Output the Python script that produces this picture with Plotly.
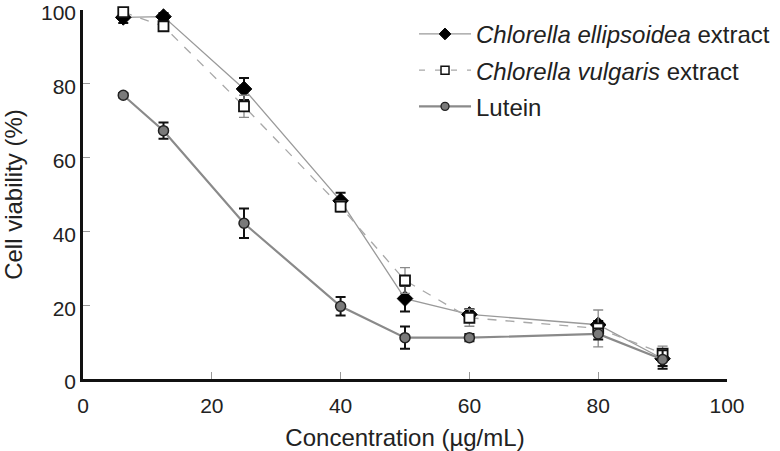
import plotly.graph_objects as go

conc = [6.25, 12.5, 25, 40, 50, 60, 80, 90]

ellipsoidea = [98.0, 98.2, 78.6, 48.3, 21.8, 17.5, 14.7, 5.5]
ellipsoidea_err = [1.5, 1.0, 3.0, 2.2, 3.5, 1.5, 1.0, 2.0]

vulgaris = [99.4, 95.6, 73.9, 46.7, 26.7, 16.6, 13.7, 6.9]
vulgaris_err = [1.0, 0.6, 3.0, 1.5, 3.5, 2.3, 5.0, 2.0]

lutein = [76.9, 67.3, 42.2, 19.7, 11.2, 11.2, 12.2, 5.3]
lutein_err = [0.6, 2.2, 4.0, 2.5, 3.0, 1.0, 1.5, 2.5]

series_names = [
    "<i>Chlorella ellipsoidea</i> extract",
    "<i>Chlorella vulgaris</i> extract",
    "Lutein",
]

styles = [
    dict(line=dict(color="#9a9a9a", width=1.3),
         marker=dict(symbol="diamond", size=12, color="black", line=dict(color="black", width=1)),
         legend_marker=dict(symbol="diamond", size=9, color="black", line=dict(color="black", width=1)),
         err=dict(color="#111111", thickness=2, width=5)),
    dict(line=dict(color="#a8a8a8", width=1.3, dash="dash"),
         marker=dict(symbol="square", size=10, color="white", line=dict(color="#111111", width=1.8)),
         legend_marker=dict(symbol="square", size=8, color="white", line=dict(color="#111111", width=1.5)),
         err=dict(color="#8a8a8a", thickness=1.3, width=5)),
    dict(line=dict(color="#8a8a8a", width=2.2),
         marker=dict(symbol="circle", size=10, color="#7a7a7a", line=dict(color="#222222", width=1.5)),
         legend_marker=dict(symbol="circle", size=8, color="#7a7a7a", line=dict(color="#222222", width=1.3)),
         err=dict(color="#111111", thickness=2, width=5)),
]

values = [ellipsoidea, vulgaris, lutein]
errors = [ellipsoidea_err, vulgaris_err, lutein_err]

fig = go.Figure()

for name, vals, errs, st in zip(series_names, values, errors, styles):
    fig.add_trace(go.Scatter(
        x=conc, y=vals, name=name, mode="lines+markers",
        line=st["line"], marker=st["marker"],
        error_y=dict(type="data", array=errs, **st["err"]),
        cliponaxis=False, showlegend=False,
    ))

# legend entries (smaller markers, as in the reference legend)
for i, (name, st) in enumerate(zip(series_names, styles)):
    lw = dict(st["line"])
    if "dash" in lw:
        lw["dash"] = "6px,10px"
    fig.add_trace(go.Scatter(
        x=[None], y=[None], name=name, mode="lines+markers",
        line=lw, marker=st["legend_marker"],
        legendgroup="g%d" % i, showlegend=True,
    ))

font_family = "Liberation Sans, Arial, sans-serif"

fig.update_layout(
    width=780, height=451,
    margin=dict(l=83, r=53, t=10, b=72, autoexpand=False),
    paper_bgcolor="white", plot_bgcolor="white",
    font=dict(family=font_family, size=20, color="#222222"),
    legend=dict(
        x=0.514, y=0.995, xanchor="left", yanchor="top",
        bgcolor="rgba(0,0,0,0)", borderwidth=0,
        font=dict(size=24, color="#222222"),
        itemwidth=52,
        tracegroupgap=2,
        traceorder="grouped",
    ),
    xaxis=dict(
        range=[0, 100], tickvals=[0, 20, 40, 60, 80, 100],
        showgrid=False, zeroline=False, automargin=False,
        showline=True, linecolor="#111111", linewidth=2.5,
        ticks="inside", ticklen=7, tickcolor="#999999", tickwidth=1,
        tickfont=dict(size=21), ticklabelstandoff=6, ticklabeloverflow="allow",
        title=dict(text="Concentration (µg/mL)", font=dict(size=24), standoff=14),
    ),
    yaxis=dict(
        range=[0, 100], tickvals=[0, 20, 40, 60, 80, 100],
        showgrid=False, zeroline=False, automargin=False,
        showline=True, linecolor="#111111", linewidth=2.5,
        ticks="inside", ticklen=7, tickcolor="#999999", tickwidth=1,
        tickfont=dict(size=21), ticklabeloverflow="allow", ticklabelshift=3,
        title=dict(text="Cell viability (%)", font=dict(size=24), standoff=25),
    ),
)

fig.write_html(
    "out.html",
    config={"displayModeBar": False},
    post_script="document.body.style.margin='0px';document.body.style.padding='0px';",
)
